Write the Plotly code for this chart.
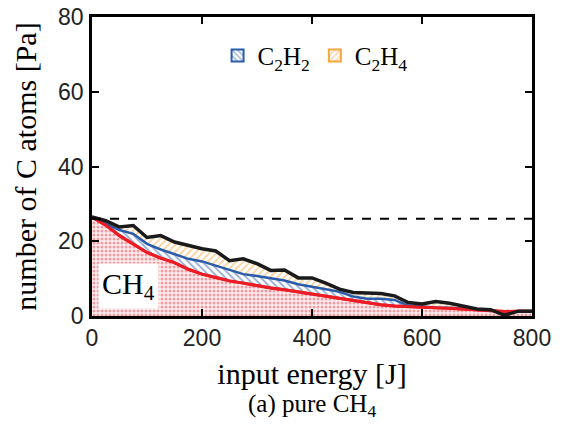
import plotly.graph_objects as go

# input energy [J]
energy = [0, 25, 50, 75, 100, 125, 150, 175, 200, 225, 250, 275, 300, 325, 350, 375, 400,
          425, 450, 475, 500, 525, 550, 575, 600, 625, 650, 675, 700, 725, 750, 775, 800]
# remaining CH4 (number of C atoms, Pa)
ch4 = [26.5, 24.3, 21.5, 19.2, 17.0, 15.5, 14.3, 12.5, 11.2, 10.3, 9.4, 8.8, 8.1, 7.5, 7.0, 6.4, 5.8,
       5.3, 4.8, 4.1, 3.4, 3.0, 2.7, 2.5, 2.3, 2.2, 2.1, 1.9, 1.7, 1.6, 1.2, 1.3, 1.3]
# CH4 + C2H2 (cumulative)
ch4_c2h2 = [26.5, 24.8, 23.0, 22.0, 19.3, 17.8, 16.5, 15.3, 14.6, 13.5, 12.2, 11.2, 10.7, 10.1, 9.5, 8.5, 7.8,
            7.1, 6.5, 5.2, 4.6, 4.6, 4.3, 2.8, 2.5, 2.3, 2.2, 2.0, 1.8, 1.6, 0.6, 1.3, 1.3]
# total: CH4 + C2H2 + C2H4 (cumulative)
total = [26.5, 25.5, 23.8, 24.2, 21.0, 21.5, 19.8, 18.8, 18.0, 17.4, 14.8, 15.3, 14.0, 12.2, 12.3, 10.2, 10.2,
         8.8, 7.2, 6.3, 6.1, 6.0, 5.4, 3.6, 3.2, 3.9, 3.4, 2.7, 1.9, 1.7, 0.2, 1.3, 1.3]
initial_level = 26

RED = "#ec1c24"
BLUE = "#2a5caa"
ORANGE = "#f7a43c"
SERIF = "Liberation Serif"
SANS = "Liberation Sans"

blue_hatch = dict(shape="\\", fgcolor=BLUE, bgcolor="white", size=5, solidity=0.35)
orange_hatch = dict(shape="/", fgcolor=ORANGE, bgcolor="white", size=5, solidity=0.35)

fig = go.Figure()

fig.add_trace(go.Scatter(
    x=energy, y=ch4, mode="lines", fill="tozeroy",
    line=dict(color=RED, width=3),
    fillcolor="rgba(255,255,255,0)",
    fillpattern=dict(shape=".", fgcolor="#ee4450", bgcolor="#fdf0f1", size=4, solidity=0.45),
    showlegend=False))

fig.add_trace(go.Scatter(
    x=energy, y=ch4_c2h2, mode="lines", fill="tonexty",
    line=dict(color=BLUE, width=2.5), fillpattern=blue_hatch, showlegend=False))

fig.add_trace(go.Scatter(
    x=energy, y=total, mode="lines", fill="tonexty",
    line=dict(color=ORANGE, width=1.5), fillpattern=orange_hatch, showlegend=False))

# outlines on top
fig.add_trace(go.Scatter(x=energy, y=ch4, mode="lines",
                         line=dict(color=RED, width=3), showlegend=False))
fig.add_trace(go.Scatter(x=energy, y=total, mode="lines",
                         line=dict(color="#1a1a1a", width=3.5), showlegend=False))
fig.add_trace(go.Scatter(x=[energy[0], energy[-1]], y=[initial_level, initial_level], mode="lines",
                         line=dict(color="black", width=2, dash="dash"), showlegend=False))

# legend boxes
fig.add_trace(go.Bar(x=[None], y=[None], name="C<sub>2</sub>H<sub>2</sub>",
                     marker=dict(color="white", line=dict(color=BLUE, width=2), pattern=blue_hatch)))
fig.add_trace(go.Bar(x=[None], y=[None], name="C<sub>2</sub>H<sub>4</sub>",
                     marker=dict(color="white", line=dict(color=ORANGE, width=2), pattern=orange_hatch)))

fig.add_annotation(x=66, y=8, text="CH<sub>4</sub>", showarrow=False,
                   font=dict(family=SERIF, size=30, color="black"),
                   bgcolor="white", borderpad=3)

fig.add_annotation(x=0.5, y=-0.3, xref="paper", yref="paper", xanchor="center", yanchor="middle",
                   text="(a) pure CH<sub>4</sub>", showarrow=False,
                   font=dict(family=SERIF, size=25, color="black"))

axis_common = dict(showgrid=False, zeroline=False, showline=True, linecolor="black",
                   linewidth=2.5, mirror="ticks", ticks="inside", ticklen=7,
                   tickwidth=1.5, tickcolor="black", automargin=False,
                   ticklabeloverflow="allow",
                   tickfont=dict(family=SANS, size=23, color="#222"))

fig.update_xaxes(range=[0, 800], tickvals=[0, 200, 400, 600, 800],
                 title=dict(text="input energy [J]", font=dict(family=SERIF, size=30, color="black"),
                            standoff=13),
                 **axis_common)
fig.update_yaxes(range=[0, 80], tickvals=[0, 20, 40, 60, 80], ticklabelstandoff=1,
                 title=dict(text="number of C atoms [Pa]", font=dict(family=SERIF, size=30, color="black"),
                            standoff=13),
                 **axis_common)

# page body adds an 8px offset, so the figure is sized to the visible area
fig.update_layout(
    width=558, height=418,
    margin=dict(l=84, r=34, t=9, b=110),
    plot_bgcolor="white", paper_bgcolor="white",
    showlegend=True,
    legend=dict(orientation="h", x=0.507, xanchor="center", y=0.87, yanchor="middle",
                traceorder="normal", bgcolor="rgba(0,0,0,0)",
                font=dict(family=SERIF, size=25, color="black"), itemwidth=30),
)

fig.write_html("out.html")
